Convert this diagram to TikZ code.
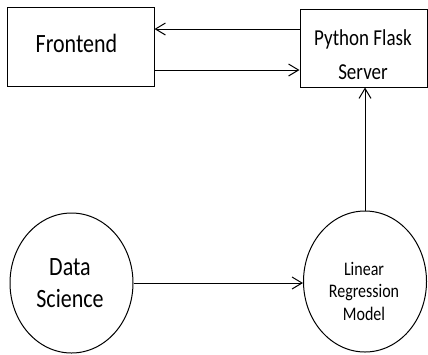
\documentclass[tikz,border=0pt]{standalone}
\usepackage{fontspec}
\setmainfont{Carlito}
\usetikzlibrary{arrows.meta,shapes.geometric}
\newcommand{\vstretch}[1]{\scalebox{1}[1.2]{#1}}
\begin{document}
\begin{tikzpicture}[x=1pt,y=-1pt,
  shapebox/.style={draw, line width=1pt, rectangle, inner sep=0pt},
  shapeell/.style={draw, line width=1pt, ellipse, inner sep=0pt},
  txt/.style={inner sep=0pt, anchor=base},
  conn/.style={line width=1pt, -{Straight Barb[length=10pt,width=12pt,line width=1pt]}}]
\useasboundingbox (0,0) rectangle (428,354);
% shapes
\node[shapebox, minimum width=147pt, minimum height=79pt] (fe) at (80.5,46.5) {};
\node[shapebox, minimum width=127pt, minimum height=78pt] (srv) at (363.5,48) {};
\node[shapeell, minimum width=123pt, minimum height=140pt] (ds) at (71.5,283) {};
\node[shapeell, minimum width=123pt, minimum height=141pt] (lrm) at (365,281.5) {};
% texts
\node[txt] (fet) at (76.5,52) {\vstretch{\fontsize{22}{26}\selectfont Frontend}};
\node[txt] (srvt) at (363,45) {\vstretch{\fontsize{19}{29}\selectfont\begin{tabular}[t]{@{}c@{}}Python Flask\\Server\end{tabular}}};
\node[txt] (dst) at (70,275) {\vstretch{\fontsize{22}{26.7}\selectfont\begin{tabular}[t]{@{}c@{}}Data\\Science\end{tabular}}};
\node[txt] (lrmt) at (364,275) {\vstretch{\fontsize{16}{18.75}\selectfont\begin{tabular}[t]{@{}c@{}}Linear\\Regression\\Model\end{tabular}}};
% connectors
\draw[conn] ([yshift=19pt]srv.west) -- ([yshift=19pt]srv.west -| fe.east);
\draw[conn] ([yshift=-23.5pt]fe.east) -- ([yshift=-23.5pt]fe.east -| srv.west);
\draw[conn] (lrm.north) -- (lrm.north |- srv.south);
\draw[conn] (ds.east) -- (ds.east -| lrm.west);
\end{tikzpicture}
\end{document}
